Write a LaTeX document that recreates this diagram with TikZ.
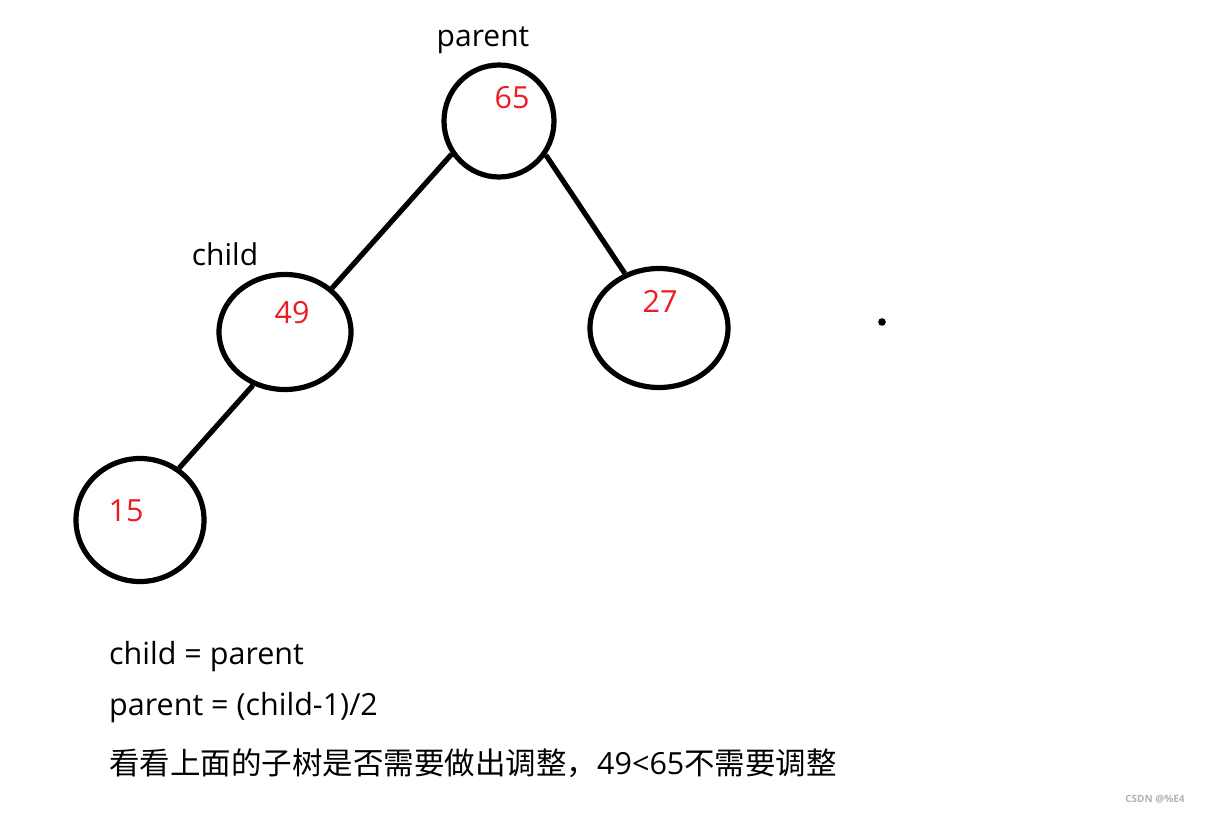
\documentclass[tikz,border=0pt]{standalone}
\usepackage{fontspec}
\setmainfont{Open Sans}
\newfontfamily\cjk{Noto Sans CJK SC}
\usetikzlibrary{shapes.geometric}
\definecolor{numred}{RGB}{237,28,36}
\tikzset{
  treenode/.style={draw=black, line width=5.2pt, ellipse, inner sep=0pt},
  num/.style={text=numred, font=\fontsize{30.5}{33}\selectfont, inner sep=0pt},
  lbl/.style={text=black, font=\fontsize{30}{33}\selectfont, inner sep=0pt},
  edge/.style={draw=black, line width=5.2pt},
  txt/.style={text=black, font=\fontsize{30.5}{33}\selectfont, anchor=west, inner sep=0pt}
}
\begin{document}
\begin{tikzpicture}[x=1pt,y=-1pt]
\fill[white] (0,0) rectangle (1212,816);
\useasboundingbox (0,0) rectangle (1212,816);
\node[treenode, minimum width=110pt, minimum height=112pt] (n65) at (499,121) {};
\node[treenode, minimum width=132pt, minimum height=115pt] (n49) at (285,332) {};
\node[treenode, minimum width=138pt, minimum height=119pt] (n27) at (659,328) {};
\node[treenode, minimum width=128pt, minimum height=123pt] (n15) at (140,520) {};
\node[num] (t65) at (512,98) {65};
\node[num] (t49) at (292,313) {49};
\node[num] (t27) at (660,301) {27};
\node[num] (t15) at (126,511) {15};
\node[lbl] (lp) at (483,40) {parent};
\node[lbl] (lc) at (225,254) {child};
\draw[edge] (n65.215) -- (n49.43);
\draw[edge] (n65.-36) -- (n27.122);
\draw[edge] (n49.239) -- (n15.53);
\fill[black] (882,322) circle (3.8pt);
\node[txt] (l1) at (109,657) {child = parent};
\node[txt] (l2) at (109,708) {parent = (child-1)/2};
\node[txt] (l3) at (109,763) {{\cjk 看看上面的子树是否需要做出调整，}49<65{\cjk 不需要调整}};
\node[text=black!30, font=\fontsize{10}{12}\selectfont\bfseries, inner sep=0pt] (wm) at (1155,799) {CSDN @\%E4};
\end{tikzpicture}
\end{document}
